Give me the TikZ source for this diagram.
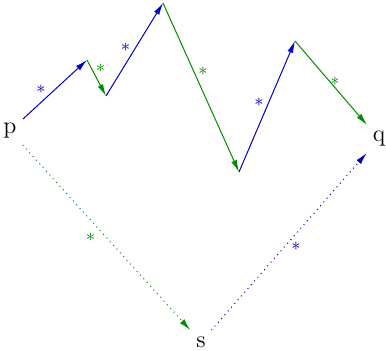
\documentclass[tikz,border=0pt]{standalone}
\usepackage{amsmath,amssymb}
\usetikzlibrary{arrows.meta}

\definecolor{pathblue}{RGB}{0,0,190}
\definecolor{pathgreen}{RGB}{0,140,0}

\begin{document}
\begin{tikzpicture}[
    x=0.5pt, y=-0.5pt,
    pt/.style={font=\large, inner sep=3pt},
    arrow/.style={-{Latex[length=6pt, width=3pt]}, line width=0.5pt},
    bluestep/.style={arrow, pathblue},
    greenstep/.style={arrow, pathgreen},
    dotstep/.style={arrow, dotted},
    star/.style={font=\small, inner sep=1pt}
]
\useasboundingbox (0,0) rectangle (386,351);

% End points
\node[pt] (p) at (10,131) {p};
\node[pt] (s) at (201,342) {s};
\node[pt] (q) at (379,139) {q};

% Corners of the zigzag path
\coordinate (a1) at (87,60);
\coordinate (a2) at (106,96);
\coordinate (a3) at (163,3);
\coordinate (a4) at (239,172);
\coordinate (a5) at (295,41);

% Zigzag path from p to q
\draw[bluestep] (p) -- (a1) node[midway, star, text=pathblue, xshift=-7pt, yshift=0pt] {$\ast$};
\draw[greenstep] (a1) -- (a2) node[midway, star, text=pathgreen, xshift=2pt, yshift=5pt] {$\ast$};
\draw[bluestep] (a2) -- (a3) node[midway, star, text=pathblue, xshift=-4.5pt, yshift=1pt] {$\ast$};
\draw[greenstep] (a3) -- (a4) node[midway, star, text=pathgreen, xshift=1pt, yshift=8pt] {$\ast$};
\draw[bluestep] (a4) -- (a5) node[midway, star, text=pathblue, xshift=-4pt, yshift=2pt] {$\ast$};
\draw[greenstep] (a5) -- (q) node[midway, star, text=pathgreen, xshift=2pt, yshift=1pt] {$\ast$};

% Dotted path through s
\draw[dotstep, pathgreen] (p) -- (s) node[midway, star, text=pathgreen, xshift=-8pt, yshift=0pt] {$\ast$};
\draw[dotstep, pathblue] (s) -- (q) node[midway, star, text=pathblue, xshift=3.5pt, yshift=-2.5pt] {$\ast$};

\end{tikzpicture}
\end{document}
